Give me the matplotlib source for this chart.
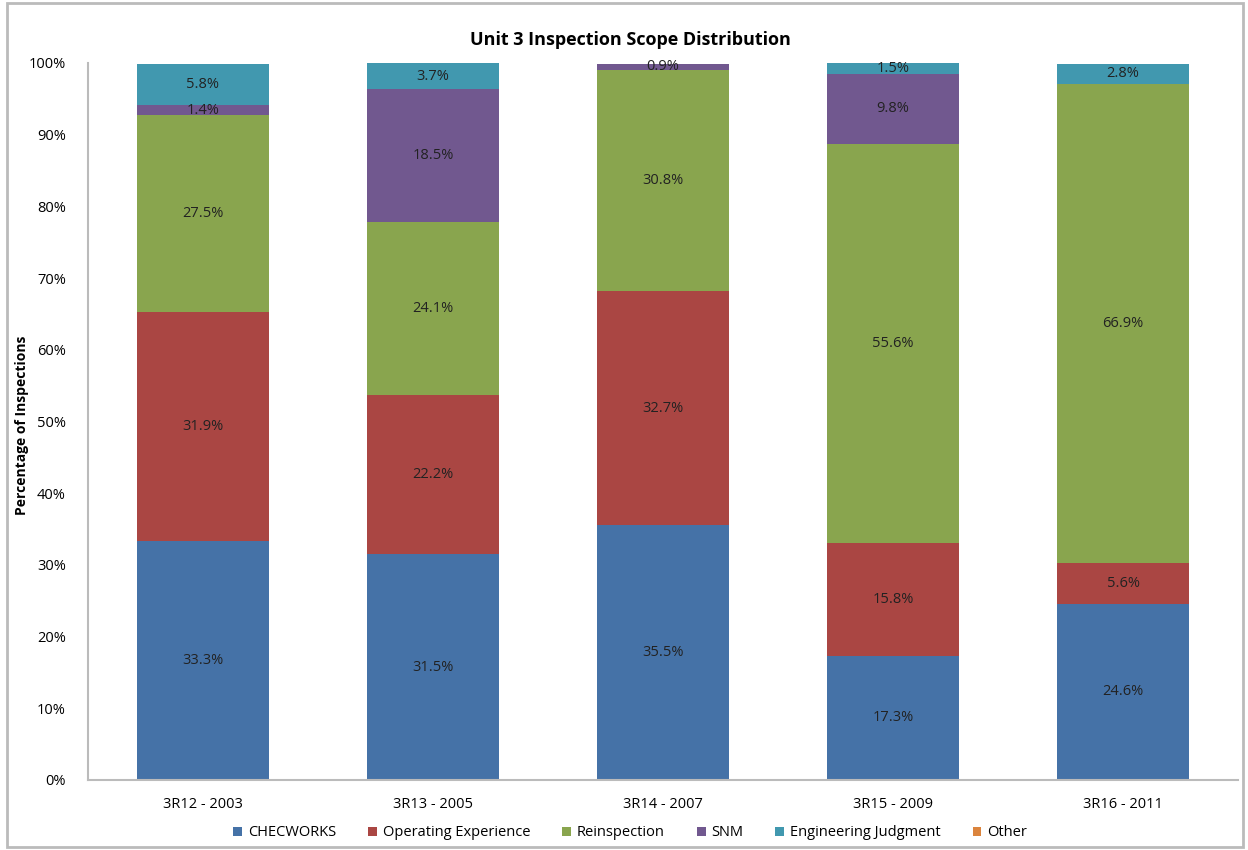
import matplotlib.pyplot as plt
import numpy as np
from matplotlib.patches import Rectangle

plt.rcParams['font.family'] = ['Open Sans', 'DejaVu Sans']

outages = ["3R12 - 2003", "3R13 - 2005", "3R14 - 2007", "3R15 - 2009", "3R16 - 2011"]
checworks = [33.3, 31.5, 35.5, 17.3, 24.6]
op_exp = [31.9, 22.2, 32.7, 15.8, 5.6]
reinspection = [27.5, 24.1, 30.8, 55.6, 66.9]
snm = [1.4, 18.5, 0.9, 9.8, 0.0]
eng_judgment = [5.8, 3.7, 0.0, 1.5, 2.8]
other = [0.0, 0.0, 0.0, 0.0, 0.0]

series = [
    ("CHECWORKS", checworks, "#4572A7"),
    ("Operating Experience", op_exp, "#AA4643"),
    ("Reinspection", reinspection, "#89A54E"),
    ("SNM", snm, "#71588F"),
    ("Engineering Judgment", eng_judgment, "#4198AF"),
    ("Other", other, "#DB843D"),
]

fig = plt.figure(figsize=(12.48, 8.5), dpi=100)
ax = fig.add_axes([0.0705, 0.0824, 0.9215, 0.8436])

x = np.arange(len(outages))
bottom = np.zeros(len(outages))
for name, vals, color in series:
    vals = np.array(vals)
    ax.bar(x, vals, 0.57, bottom=bottom, color=color, label=name, edgecolor='none')
    for xi, b, v in zip(x, bottom, vals):
        if v > 0:
            ax.text(xi, b + v / 2, f"{v:.1f}%", ha='center', va='center', fontsize=10.5, color='#222222')
    bottom += vals

ax.set_xlim(-0.5, len(outages) - 0.5)
ax.set_ylim(0, 100)
ax.set_yticks(range(0, 101, 10))
ax.set_yticklabels([f"{t}%" for t in range(0, 101, 10)], fontsize=10.5)
ax.set_xticks(x)
ax.set_xticklabels(outages, fontsize=10.5)
ax.tick_params(axis='x', length=0, pad=12)
ax.tick_params(axis='y', length=0, pad=16)
for s in ['top', 'right']:
    ax.spines[s].set_visible(False)
for s in ['left', 'bottom']:
    ax.spines[s].set_color('#BBBBBB')
    ax.spines[s].set_linewidth(1.5)

fig.text(0.018, 0.5, "Percentage of Inspections", rotation=90, ha='center', va='center',
         fontsize=10, fontweight='bold')
fig.text(0.505, 0.953, "Unit 3 Inspection Scope Distribution", ha='center', va='center',
         fontsize=13, fontweight='bold')

handles, labels = ax.get_legend_handles_labels()
fig.legend(handles, labels, loc='center', bbox_to_anchor=(0.505, 0.02), ncol=6, frameon=False,
           fontsize=10.5, handlelength=0.6, handleheight=0.6, handletextpad=0.4, columnspacing=2.2)

fig.patches.append(Rectangle((0.006, 0.004), 0.99, 0.992, transform=fig.transFigure,
                             fill=False, edgecolor='#BBBBBB', linewidth=2))

fig.savefig("out.png", dpi=100)
